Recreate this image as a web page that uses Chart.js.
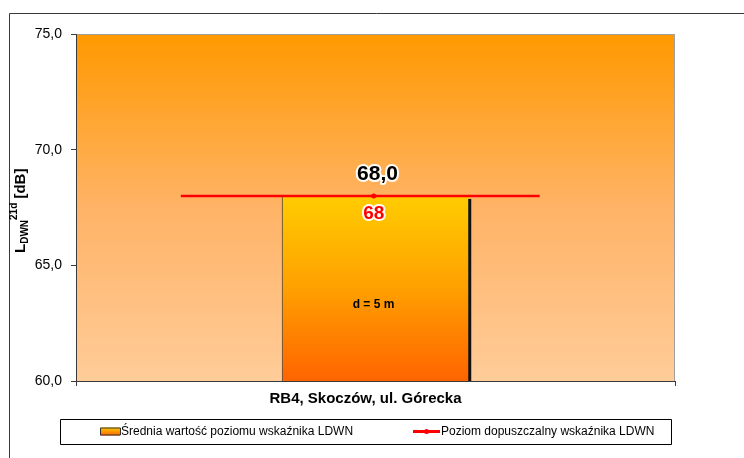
<!DOCTYPE html>
<html lang="pl">
<head>
<meta charset="UTF-8">
<title>RB4, Skoczów - LDWN</title>
<script src="https://cdn.jsdelivr.net/npm/chart.js"></script>
<style>
  html, body { margin: 0; padding: 0; background: #fff; }
  #wrap { width: 744px; height: 458px; position: relative; }
</style>
</head>
<body>
<div id="wrap"><canvas id="wykres"></canvas></div>

<script>
// dane
var kategorie = ['RB4, Skoczów, ul. Górecka'];
var srednia = [68.0];            // średnia wartość LDWN
var dopuszczalny = [68, 68, 68]; // poziom dopuszczalny
var dopX = [0.175, 0.497, 0.774]; // zasięg linii na osi pomocniczej
var opisy = ['d = 5 m'];
var skalaY = { min: 60, max: 75, krok: 5 };

var nazwaSr = 'Średnia wartość poziomu wskaźnika LDWN';
var nazwaDop = 'Poziom dopuszczalny wskaźnika LDWN';

var FONT = "Arial, 'Liberation Sans', sans-serif";
Chart.defaults.font.family = FONT;
Chart.defaults.color = '#000';

function przecinek(v, n) {
  return Number(v).toFixed(n).replace('.', ',');
}

// tekst z białą poświatą
function tekstHalo(ctx, txt, x, y, font, kolor) {
  ctx.font = font;
  ctx.textAlign = 'center';
  ctx.textBaseline = 'middle';
  ctx.lineJoin = 'round';
  ctx.strokeStyle = 'rgba(255,255,255,0.95)';
  ctx.lineWidth = 4;
  ctx.strokeText(txt, x, y);
  ctx.fillStyle = kolor;
  ctx.fillText(txt, x, y);
}

var tloWykresu = {
  id: 'tloWykresu',
  beforeDraw: function (chart) {
    var ctx = chart.ctx, a = chart.chartArea;
    ctx.save();
    // ramka całego obszaru
    ctx.strokeStyle = '#3a3a3a';
    ctx.lineWidth = 1;
    ctx.beginPath();
    ctx.moveTo(9.5, 460);
    ctx.lineTo(9.5, 13.5);
    ctx.lineTo(744, 13.5);
    ctx.stroke();
    // gradient obszaru kreślenia
    var g = ctx.createLinearGradient(0, a.top, 0, a.bottom);
    g.addColorStop(0, '#ff9900');
    g.addColorStop(0.5, '#ffb366');
    g.addColorStop(1, '#ffcc99');
    ctx.fillStyle = g;
    ctx.fillRect(a.left, a.top, a.right - a.left, a.bottom - a.top);
    ctx.strokeStyle = '#a0a0a0';
    ctx.strokeRect(a.left + 0.5, a.top + 0.5, a.right - a.left - 1, a.bottom - a.top);
    ctx.restore();
  }
};

var opisyWykresu = {
  id: 'opisyWykresu',
  afterDatasetDraw: function (chart, args) {
    if (args.index !== 0) return;
    // cień słupka (podstawa słupka leży poniżej osi, więc przycinamy do obszaru)
    var ctx = chart.ctx, a = chart.chartArea;
    chart.getDatasetMeta(0).data.forEach(function (bar) {
      var r = bar.x + bar.width / 2;
      var dol = Math.min(bar.base, a.bottom);
      ctx.save();
      ctx.fillStyle = '#111';
      ctx.fillRect(r - 1, bar.y + 3, 3, dol - bar.y - 3);
      ctx.restore();
    });
  },
  afterDraw: function (chart) {
    var ctx = chart.ctx, a = chart.chartArea;
    ctx.save();

    // etykiety wartości
    chart.getDatasetMeta(0).data.forEach(function (bar, i) {
      tekstHalo(ctx, przecinek(srednia[i], 1), bar.x + 2, bar.y - 22, 'bold 21px ' + FONT, '#000');
      var mid = a.bottom - (a.bottom - bar.y) * 0.41;
      ctx.font = 'bold 12px ' + FONT;
      ctx.fillStyle = '#000';
      ctx.textAlign = 'center';
      ctx.textBaseline = 'middle';
      ctx.fillText(opisy[i], bar.x - 2, mid);
    });
    var p = chart.getDatasetMeta(1).data[1];
    tekstHalo(ctx, String(dopuszczalny[1]), p.x, p.y + 18, 'bold 19px ' + FONT, '#ff0000');

    // tytuł osi Y: L DWN ^21d [dB]
    ctx.translate(20, 253);
    ctx.rotate(-Math.PI / 2);
    ctx.textAlign = 'left';
    ctx.textBaseline = 'alphabetic';
    ctx.fillStyle = '#000';
    var x = 0;
    ctx.font = 'bold 15px ' + FONT;
    ctx.fillText('L', x, 5); x += ctx.measureText('L').width;
    ctx.font = 'bold 10px ' + FONT;
    ctx.fillText('DWN', x, 8); x += ctx.measureText('DWN').width;
    ctx.fillText('21d', x, -3); x += ctx.measureText('21d').width;
    ctx.font = 'bold 15px ' + FONT;
    ctx.fillText(' [dB]', x, 5);
    ctx.setTransform(1, 0, 0, 1, 0, 0);

    // legenda
    var lx = 60, ly = 419, lw = 611, lh = 25, cy = ly + lh / 2;
    ctx.strokeStyle = '#000';
    ctx.lineWidth = 1;
    ctx.strokeRect(lx + 0.5, ly + 0.5, lw, lh);
    var g = ctx.createLinearGradient(0, cy - 4, 0, cy + 4);
    g.addColorStop(0, '#ffcc00');
    g.addColorStop(1, '#ff6600');
    ctx.fillStyle = g;
    ctx.fillRect(100, cy - 4, 20, 8);
    ctx.strokeStyle = '#333';
    ctx.strokeRect(100.5, cy - 3.5, 20, 7);
    ctx.font = '12px ' + FONT;
    ctx.fillStyle = '#000';
    ctx.textBaseline = 'middle';
    ctx.fillText(nazwaSr, 121, cy);
    ctx.strokeStyle = '#ff0000';
    ctx.lineWidth = 3;
    ctx.beginPath();
    ctx.moveTo(413, cy);
    ctx.lineTo(440, cy);
    ctx.stroke();
    ctx.fillStyle = '#ff0000';
    ctx.beginPath();
    ctx.arc(426.5, cy, 2.5, 0, Math.PI * 2);
    ctx.fill();
    ctx.fillStyle = '#000';
    ctx.fillText(nazwaDop, 441, cy);
    ctx.restore();
  }
};

var ctx = document.getElementById('wykres').getContext('2d');
new Chart(ctx, {
  data: {
    labels: kategorie,
    datasets: [{
      type: 'bar',
      label: nazwaSr,
      data: srednia,
      order: 1,
      grouped: false,
      backgroundColor: function (c) {
        var a = c.chart.chartArea;
        if (!a) return '#ff9900';
        var top = c.chart.scales.y.getPixelForValue(srednia[0]);
        var g = c.chart.ctx.createLinearGradient(0, top, 0, a.bottom);
        g.addColorStop(0, '#ffcc00');
        g.addColorStop(0.5, '#ffa000');
        g.addColorStop(1, '#ff6400');
        return g;
      },
      borderColor: '#262626',
      borderWidth: { left: 1, right: 0, top: 1, bottom: 0 },
      borderSkipped: false,
      categoryPercentage: 1,
      barPercentage: 0.313
    }, {
      type: 'line',
      label: nazwaDop,
      xAxisID: 'xl',
      order: 0,
      data: dopX.map(function (x, i) { return { x: x, y: dopuszczalny[i] }; }),
      borderColor: '#ff0000',
      borderWidth: 2.5,
      pointRadius: [0, 2.5, 0],
      pointBackgroundColor: '#ff0000',
      pointBorderWidth: 0,
      tension: 0
    }]
  },
  options: {
    responsive: true,
    maintainAspectRatio: false,
    animation: false,
    layout: { padding: { left: 30, right: 69, top: 34, bottom: 40 } },
    plugins: {
      legend: { display: false },
      tooltip: { enabled: false }
    },
    scales: {
      x: {
        type: 'category',
        offset: true,
        grid: { display: true, drawOnChartArea: false, offset: true, tickLength: 5, color: '#3a3a3a' },
        border: { display: true, color: '#3a3a3a' },
        ticks: { font: { size: 15, weight: 'bold' }, color: '#000', padding: 4, labelOffset: -10 },
        afterFit: function (s) { s.height = 37; }
      },
      xl: {
        type: 'linear',
        display: false,
        min: 0,
        max: 1
      },
      y: {
        min: skalaY.min,
        max: skalaY.max,
        grid: { drawOnChartArea: false, tickLength: 5, color: '#3a3a3a' },
        border: { display: true, color: '#3a3a3a' },
        ticks: {
          stepSize: skalaY.krok,
          font: { size: 14 },
          color: '#000',
          padding: 9,
          callback: function (v) { return przecinek(v, 1); }
        },
        afterFit: function (s) { s.width = 46; }
      }
    }
  },
  plugins: [tloWykresu, opisyWykresu]
});
</script>
</body>
</html>
